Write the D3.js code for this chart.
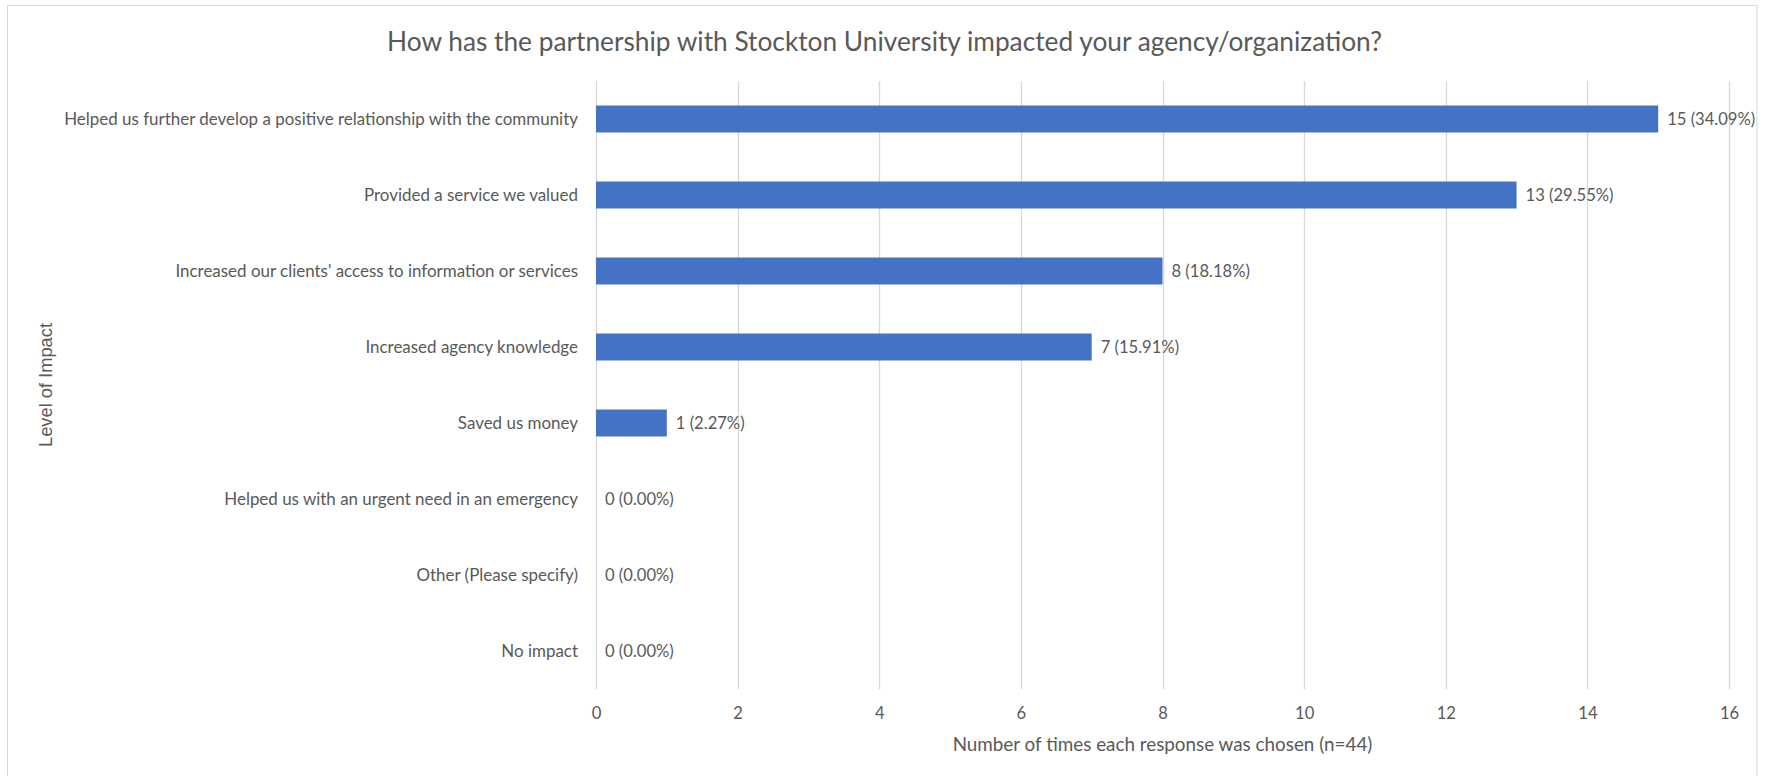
<!DOCTYPE html>
<html>
<head>
<meta charset="utf-8">
<script src="https://cdn.jsdelivr.net/npm/d3@7"></script>
<style>
  html, body { margin: 0; padding: 0; background: #fff; }
  svg { display: block; }
</style>
</head>
<body>
<svg id="chart" width="1765" height="776"></svg>
<script>
// ---- data ----
const chartTitle = "How has the partnership with Stockton University impacted your agency/organization?";
const xAxisTitle = "Number of times each response was chosen (n=44)";
const yAxisTitle = "Level of Impact";
const categories = [
  "Helped us further develop a positive relationship with the community",
  "Provided a service we valued",
  "Increased our clients' access to information or services",
  "Increased agency knowledge",
  "Saved us money",
  "Helped us with an urgent need in an emergency",
  "Other (Please specify)",
  "No impact"
];
const counts = [15, 13, 8, 7, 1, 0, 0, 0];
const percents = ["34.09%", "29.55%", "18.18%", "15.91%", "2.27%", "0.00%", "0.00%", "0.00%"];
const xTicks = [0, 2, 4, 6, 8, 10, 12, 14, 16];

// ---- layout ----
const W = 1765, H = 776;
const plot = { left: 596, right: 1729, top: 81, bottom: 689 };
const textColor = "#595959";
const gridColor = "#d9d9d9";
const barColor = "#4472C4";
const mainFont = "Lato, 'Open Sans', sans-serif";

const svg = d3.select("#chart");

// fit helper: scale font size so that text width matches target
function fitText(sel, targetWidth) {
  const base = parseFloat(sel.attr("font-size"));
  const w = sel.node().getComputedTextLength();
  sel.attr("font-size", (base * targetWidth / w).toFixed(2));
}

// border
svg.append("rect")
  .attr("x", 7.5).attr("y", 5.5)
  .attr("width", 1757 - 7.5).attr("height", H + 10)
  .attr("fill", "none").attr("stroke", gridColor).attr("stroke-width", 1);

const x = d3.scaleLinear().domain([0, 16]).range([plot.left, plot.right]);
const y = d3.scaleBand().domain(categories).range([plot.top, plot.bottom]).paddingInner(0.645).paddingOuter(0.3225);

// gridlines
svg.append("g")
  .selectAll("line")
  .data(xTicks)
  .join("line")
  .attr("x1", d => Math.round(x(d)) + 0.5)
  .attr("x2", d => Math.round(x(d)) + 0.5)
  .attr("y1", plot.top)
  .attr("y2", plot.bottom)
  .attr("stroke", gridColor)
  .attr("stroke-width", 1.3);

// x axis tick labels via d3 axis
const xAxis = d3.axisBottom(x).tickValues(xTicks).tickSize(0).tickPadding(0).tickFormat(d3.format("d"));
const gx = svg.append("g")
  .attr("transform", `translate(0, 713)`)
  .call(xAxis);
gx.select(".domain").remove();
gx.selectAll("text")
  .attr("font-family", mainFont)
  .attr("font-size", 15)
  .attr("fill", textColor)
  .attr("dy", "0.35em");

// y axis labels via d3 axis
const yAxis = d3.axisLeft(y).tickSize(0).tickPadding(0);
const gy = svg.append("g")
  .attr("transform", `translate(578, 0)`)
  .call(yAxis);
gy.select(".domain").remove();
const yLabels = gy.selectAll("text")
  .attr("font-family", mainFont)
  .attr("font-size", 15)
  .attr("fill", textColor)
  .attr("dy", "0.35em")
  .attr("x", 0);
// fit font size from longest label (measured 514 px in reference)
{
  const first = gy.select("text");
  const base = 15;
  const w = first.node().getComputedTextLength();
  const fs = base * 514 / w;
  yLabels.attr("font-size", fs.toFixed(2));
}

// bars
svg.append("g")
  .selectAll("rect")
  .data(categories)
  .join("rect")
  .attr("x", x(0))
  .attr("y", d => y(d))
  .attr("width", (d, i) => x(counts[i]) - x(0))
  .attr("height", y.bandwidth())
  .attr("fill", barColor);

// value labels
const vl = svg.append("g")
  .selectAll("text")
  .data(categories)
  .join("text")
  .attr("x", (d, i) => x(counts[i]) + 9)
  .attr("y", d => y(d) + y.bandwidth() / 2)
  .attr("dy", "0.35em")
  .attr("font-family", mainFont)
  .attr("font-size", 15)
  .attr("fill", textColor)
  .text((d, i) => `${counts[i]} (${percents[i]})`);
{
  const first = vl.filter((d, i) => i === 0);
  const w = first.node().getComputedTextLength();
  const fs = 15 * 88 / w;
  vl.attr("font-size", fs.toFixed(2));
  gx.selectAll("text").attr("font-size", fs.toFixed(2));
}

// title
const t = svg.append("text")
  .attr("x", 884.5)
  .attr("y", 42)
  .attr("dy", "0.35em")
  .attr("text-anchor", "middle")
  .attr("font-family", mainFont)
  .attr("font-size", 20)
  .attr("fill", textColor)
  .text(chartTitle);
fitText(t, 995);

// x axis title
const xt = svg.append("text")
  .attr("x", (plot.left + plot.right) / 2)
  .attr("y", 744)
  .attr("dy", "0.35em")
  .attr("text-anchor", "middle")
  .attr("font-family", mainFont)
  .attr("font-size", 16)
  .attr("fill", textColor)
  .text(xAxisTitle);
fitText(xt, 420);

// y axis title
const yt = svg.append("text")
  .attr("transform", `translate(46, ${(plot.top + plot.bottom) / 2}) rotate(-90)`)
  .attr("dy", "0.35em")
  .attr("text-anchor", "middle")
  .attr("font-family", "'Liberation Sans', Arial, sans-serif")
  .attr("font-size", 17)
  .attr("fill", textColor)
  .text(yAxisTitle);
fitText(yt, 124);
</script>
</body>
</html>
